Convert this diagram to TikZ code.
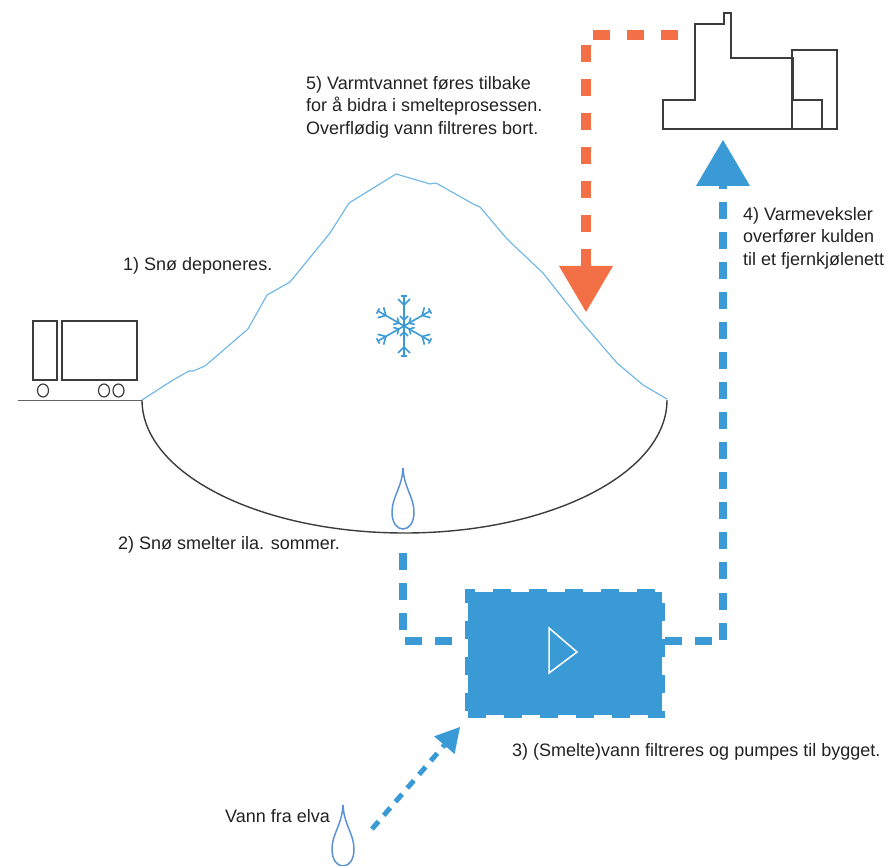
\documentclass[tikz,border=0pt]{standalone}
\usepackage{fontspec}
\setmainfont{Liberation Sans}
\usetikzlibrary{arrows.meta}

\definecolor{flowblue}{HTML}{3A9AD6}
\definecolor{snowline}{HTML}{6AB4E6}
\definecolor{dropline}{HTML}{5C93D6}
\definecolor{warmorange}{HTML}{F37047}
\definecolor{inkgrey}{HTML}{3C3C3C}
\definecolor{textgrey}{HTML}{222222}

\tikzset{
  labeltext/.style={font=\fontsize{18}{22.5}\selectfont, text=textgrey, inner sep=0pt, align=left},
  coldflow/.style={draw=flowblue, line width=8pt, dash pattern=on 17pt off 13pt},
  riverflow/.style={draw=flowblue, line width=5pt, dash pattern=on 10pt off 8pt},
  warmflow/.style={draw=warmorange, line width=10pt, dash pattern=on 17pt off 17pt},
  bigtip/.style={-{Triangle[width=54pt,length=46pt,line width=0pt]}},
  smalltip/.style={-{Triangle[width=27pt,length=24pt,line width=0pt]}},
  pumpbox/.style={fill=flowblue, draw=flowblue, line width=6pt, dash pattern=on 18pt off 18pt,
    minimum width=194pt, minimum height=123pt, inner sep=0pt},
  outline/.style={draw=inkgrey, line width=1.4pt},
  drop/.pic={
    \draw[dropline, line width=1.5pt]
      (0,0) .. controls (-1,20) and (-11,29) .. (-11,44)
      .. controls (-11,55) and (-6,61) .. (0,61)
      .. controls (6,61) and (11,55) .. (11,44)
      .. controls (11,29) and (1,20) .. (0,0) -- cycle;
  },
  snowflake/.pic={
    \foreach \a in {0,60,...,300}{
      \begin{scope}[rotate=\a, flowblue, line width=1.6pt]
        \draw (0,0) -- (0,-30);
        \draw (-6,-27) -- (0,-21) -- (6,-27);
        \draw (-3,-30) -- (3,-30);
        \draw (-4,-10) -- (0,-6) -- (4,-10);
      \end{scope}
    }
  }
}

\begin{document}
\begin{tikzpicture}[x=1pt,y=-1pt]
  \useasboundingbox (0,0) rectangle (887,866);

  % truck on the road
  \draw[outline] (33,321) rectangle (57,380);
  \draw[outline] (62,321) rectangle (137,380);
  \draw[inkgrey, line width=1.2pt] (43,390.5) ellipse [x radius=5.5, y radius=6.5];
  \draw[inkgrey, line width=1.2pt] (104,390.5) ellipse [x radius=5.5, y radius=6.5];
  \draw[inkgrey, line width=1.2pt] (118.5,390.5) ellipse [x radius=5.5, y radius=6.5];
  \draw[draw=inkgrey!80, line width=1.6pt] (18,400.5) -- (142,400.5);

  % snow pile: basin below ground, heap above
  \draw[inkgrey, line width=1.4pt]
    (142,400) .. controls (142,473.5) and (259.5,533) .. (404.5,533)
    .. controls (549.5,533) and (667,473.5) .. (667,400);
  \draw[snowline, line width=1.1pt]
    (142,400) -- (173,380) -- (189,371) -- (193,371) -- (205,366) -- (248,329)
    -- (267,295) -- (290,282) -- (330,233) -- (349,203) -- (396,174) -- (420,181)
    -- (430,184) -- (436,183) -- (475,205) -- (480,207) -- (507,239) -- (543,273)
    -- (580,320) -- (617,363) -- (643,385) -- (667,399);

  \pic (flake) at (404,326) {snowflake};
  \pic (melt) at (403,468) {drop};
  \pic (river) at (343,805) {drop};

  % building
  \draw[inkgrey, line width=1.6pt]
    (663,129) -- (663,100) -- (695,100) -- (695,24) -- (724,24) -- (724,13)
    -- (731,13) -- (731,58) -- (793,58) -- (793,100) -- (822,100) -- (822,129) -- cycle;
  \draw[inkgrey, line width=1.6pt] (792,50) rectangle (837,129);

  % pump station
  \node[pumpbox] (pump) at (564.5,653.5) {};
  \draw[white, line width=1.5pt] (549,628) -- (549,673) -- (577,652) -- cycle;

  % connector end points
  \coordinate (meltout) at (403,553);
  \coordinate (bldgin) at (723,140);
  \coordinate (bldgout) at (678,35);
  \coordinate (heapin) at (586,312);
  \coordinate (riverout) at (372,829);
  \coordinate (pumpin) at (460,727);

  % flows
  \draw[coldflow] (meltout) |- ([yshift=12.5pt]pump.west);
  \draw[coldflow, bigtip] ([yshift=12.5pt]pump.east) -| (bldgin);
  \draw[warmflow, bigtip] (bldgout) -| (heapin);
  \draw[riverflow, smalltip] (riverout) -- (pumpin);

  % captions
  \node[labeltext, anchor=base west] (lab1) at (123,271) {1) Snø deponeres.};
  \node[labeltext, anchor=base west] (lab2) at (118,550) {2) Snø smelter ila. sommer.};
  \node[labeltext, anchor=base west] (lab3) at (512,756) {3) (Smelte)vann filtreres og pumpes til bygget.};
  \node[labeltext, anchor=north west] (lab4) at (743,207) {4) Varmeveksler\\overfører kulden\\til et fjernkjølenett};
  \node[labeltext, anchor=north west] (lab5) at (306,76) {5) Varmtvannet føres tilbake\\for å bidra i smelteprosessen.\\Overflødig vann filtreres bort.};
  \node[labeltext, anchor=base west] (lab6) at (225,822) {Vann fra elva};
\end{tikzpicture}
\end{document}
